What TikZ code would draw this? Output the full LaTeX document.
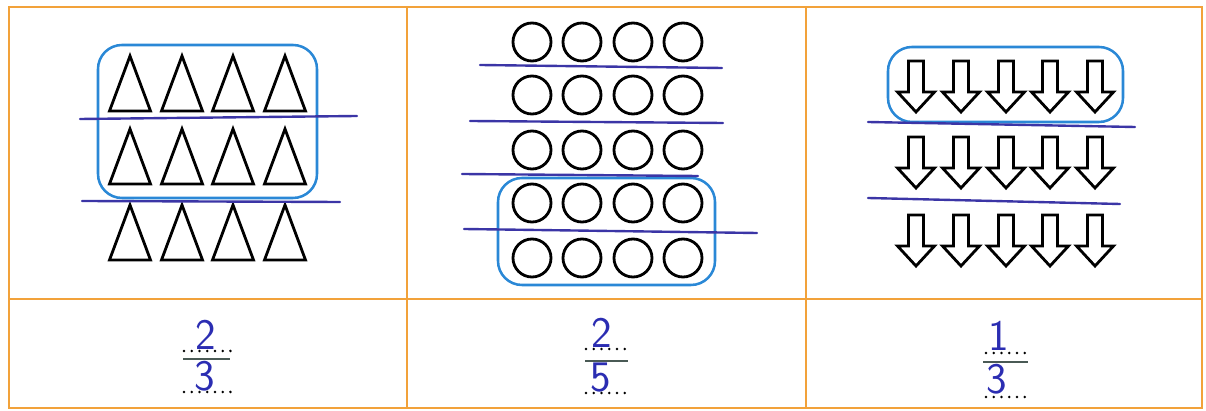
\documentclass[tikz,border=0pt]{standalone}
\usepackage{fontspec}
\usetikzlibrary{positioning}
\definecolor{cgrid}{HTML}{F2A23A}
\definecolor{cbox}{HTML}{2A88D6}
\definecolor{cline}{HTML}{3B35A6}
\definecolor{cdigit}{HTML}{2B2DB2}
\definecolor{cbar}{HTML}{4A5A55}
\tikzset{
  every picture/.style={font=\sffamily, line width=1.4pt},
  grid/.style={draw=cgrid, line width=1.9pt},
  outline/.style={draw=black, line width=2pt},
  ring/.style={circle, draw=black, line width=2pt, minimum size=0.95cm, inner sep=0pt},
  cut/.style={draw=cline, line width=1.7pt, line cap=round},
  group/.style={draw=cbox, line width=1.8pt, rounded corners=0.6cm},
  digit/.style={text=cdigit, font=\sffamily\fontsize{31}{31}\selectfont, anchor=base, inner sep=0pt},
  dotrow/.style={draw=black, line width=2pt, line cap=round, dash pattern=on 0pt off 5.5pt},
  bar/.style={draw=cbar, line width=1.3pt},
}
\begin{document}
\begin{tikzpicture}[x=0.025cm, y=-0.025cm]
  \useasboundingbox (0,0) rectangle (1206,411);
  % table
  \draw[grid] (9,7) rectangle (1202,408);
  \draw[grid] (9,299) -- (1202,299);
  \draw[grid] (407,7) -- (407,408);
  \draw[grid] (806,7) -- (806,408);
  % column 1: triangles
  \foreach \y [count=\r] in {56, 129, 205} {
    \foreach \x [count=\c] in {130, 182, 233, 285} {
      \draw[outline] (\x-20.5,\y+55) -- (\x,\y) -- (\x+20.5,\y+55) -- cycle;
    }
  }
  \draw[group] (98,45) rectangle (317,198);
  \draw[cut] (80,119) -- (357,116);
  \draw[cut] (82,201) -- (340,202);
  % column 2: circles
  \foreach \y [count=\r] in {42, 95, 150, 203, 258} {
    \foreach \x [count=\c] in {532, 582, 633, 683} {
      \node[ring] (o\r\c) at (\x,\y) {};
    }
  }
  \draw[group] (498,178) rectangle (715,285);
  \draw[cut] (480,65) -- (722,68);
  \draw[cut] (470,121) -- (723,123);
  \draw[cut] (462,174) -- (698,176);
  \draw[cut] (464,229) -- (757,233);
  % column 3: down arrows
  \foreach \y [count=\r] in {61, 137, 215} {
    \foreach \x [count=\c] in {916, 961, 1006, 1050, 1095} {
      \draw[outline] (\x-7.5,\y) -- (\x+7.5,\y) -- (\x+7.5,\y+31) -- (\x+18.5,\y+31)
        -- (\x,\y+51) -- (\x-18.5,\y+31) -- (\x-7.5,\y+31) -- cycle;
    }
  }
  \draw[group] (888,47) rectangle (1123,122);
  \draw[cut] (868,122) -- (1135,127);
  \draw[cut] (868,198) -- (1120,204);
  % fractions
  \node[digit] (n1) at (206,350) {2};
  \draw[dotrow] (184,351) -- (231,351);
  \draw[bar] (183,359) -- (230,359);
  \node[digit] (d1) at (205,391) {3};
  \draw[dotrow] (184,392) -- (231,392);
  \node[digit] (n2) at (602,348) {2};
  \draw[dotrow] (586,349) -- (626,349);
  \draw[bar] (585,361) -- (628,361);
  \node[digit] (d2) at (601,392) {5};
  \draw[dotrow] (586,393) -- (626,393);
  \node[digit] (n3) at (999,351) {1};
  \draw[dotrow] (986,353) -- (1026,353);
  \draw[bar] (983,362) -- (1028,362);
  \node[digit] (d3) at (997,394) {3};
  \draw[dotrow] (986,397) -- (1026,397);
\end{tikzpicture}
\end{document}
